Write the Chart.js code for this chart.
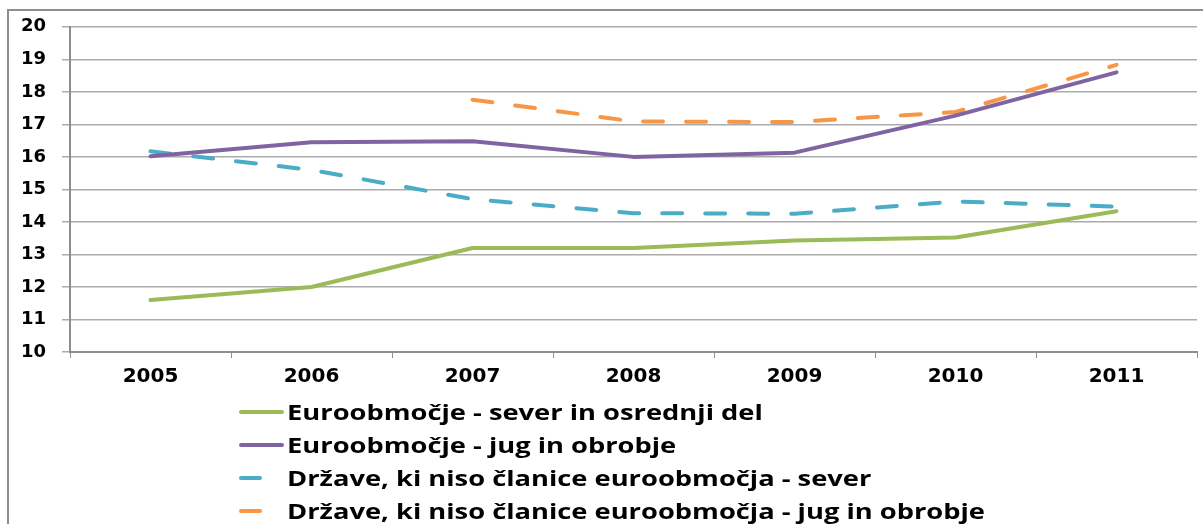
<!DOCTYPE html>
<html>
<head>
<meta charset="utf-8">
<script src="https://cdn.jsdelivr.net/npm/chart.js@4.4.1/dist/chart.umd.min.js"></script>
<style>
    html, body { margin: 0; padding: 0; background: #fff; }
    #wrap { position: relative; width: 1203px; height: 524px; overflow: hidden; }
    #frame { position: absolute; left: 7px; top: 9px; width: 1300px; height: 600px;
             border-left: 2px solid #8e8e8e; border-top: 2px solid #8e8e8e; }
    #chart { position: absolute; left: 0; top: 0; }
    #legend { position: absolute; left: 239px; top: 395px; font-family: "Open Sans", sans-serif;
              font-weight: bold; font-size: 21px; color: #000; }
    .item { height: 33px; display: flex; align-items: center; position: relative; }
    .sample { position: absolute; left: 0; height: 4px; border-radius: 2px; }
    .label { position: absolute; left: 48px; white-space: nowrap; transform: scaleX(1.3); transform-origin: left center; }
</style>
</head>
<body>
<div id="wrap">
    <div id="frame"></div>
    <canvas id="chart" width="1203" height="524"></canvas>
    <div id="legend"></div>
</div>
<script>
// podatki
const years = ['2005', '2006', '2007', '2008', '2009', '2010', '2011'];
const euroNorth = [11.6, 12.0, 13.2, 13.2, 13.43, 13.52, 14.33];
const euroSouth = [16.02, 16.45, 16.48, 16.0, 16.13, 17.27, 18.6];
const nonEuroNorth = [16.17, 15.6, 14.7, 14.27, 14.25, 14.63, 14.47];
const nonEuroSouth = [null, null, 17.76, 17.09, 17.07, 17.38, 18.83];
const seriesNames = [
    'Euroobmočje - sever in osrednji del',
    'Euroobmočje - jug in obrobje',
    'Države, ki niso članice euroobmočja - sever',
    'Države, ki niso članice euroobmočja - jug in obrobje'
];
const yTicks = [10, 11, 12, 13, 14, 15, 16, 17, 18, 19, 20];

const colors = ['#9BBB59', '#8064A2', '#4BACC6', '#F79646'];
const dashed = [false, false, true, true];
const allData = [euroNorth, euroSouth, nonEuroNorth, nonEuroSouth];

function buildChart() {
    const datasets = allData.map((d, i) => ({
        label: seriesNames[i],
        data: d,
        borderColor: colors[i],
        backgroundColor: colors[i],
        borderWidth: 4,
        borderDash: dashed[i] ? [20, 23] : [],
        borderCapStyle: 'round',
        borderJoinStyle: 'round',
        pointRadius: 0,
        tension: 0,
        fill: false
    }));

    const ctx = document.getElementById('chart').getContext('2d');
    const chart = new Chart(ctx, {
        type: 'line',
        data: { labels: years, datasets: datasets },
        options: {
            responsive: false,
            animation: false,
            layout: { padding: { left: 0, top: 26, right: 6, bottom: 127 } },
            plugins: { legend: { display: false }, tooltip: { enabled: false } },
            scales: {
                x: {
                    offset: true,
                    grid: { offset: true, drawOnChartArea: false, drawTicks: true, tickLength: 6, color: '#8e8e8e', lineWidth: 1 },
                    border: { color: '#8e8e8e', width: 2 },
                    ticks: { color: '#000', padding: 7, font: { family: 'DejaVu Sans', weight: 'bold', size: 20 } },
                    afterFit: s => { s.height = 45; }
                },
                y: {
                    min: 10,
                    max: 20,
                    afterBuildTicks: s => { s.ticks = yTicks.map(v => ({ value: v })); },
                    grid: { color: '#ababab', lineWidth: 1.5, tickLength: 8 },
                    border: { color: '#8e8e8e', width: 2 },
                    ticks: { color: '#000', padding: 16, font: { family: 'DejaVu Sans', weight: 'bold', size: 18 } },
                    afterFit: s => { s.width = 70; }
                }
            }
        }
    });

    // legenda
    const legend = document.getElementById('legend');
    chart.data.datasets.forEach((ds, i) => {
        const item = document.createElement('div');
        item.className = 'item';
        const sample = document.createElement('div');
        sample.className = 'sample';
        sample.style.background = ds.borderColor;
        sample.style.width = dashed[i] ? '23px' : '45px';
        const label = document.createElement('span');
        label.className = 'label';
        label.textContent = ds.label;
        item.appendChild(sample);
        item.appendChild(label);
        legend.appendChild(item);
    });
}

Promise.all([
    document.fonts.load('bold 20px "DejaVu Sans"'),
    document.fonts.load('bold 21px "Open Sans"')
]).catch(() => {}).then(buildChart);
</script>
</body>
</html>
